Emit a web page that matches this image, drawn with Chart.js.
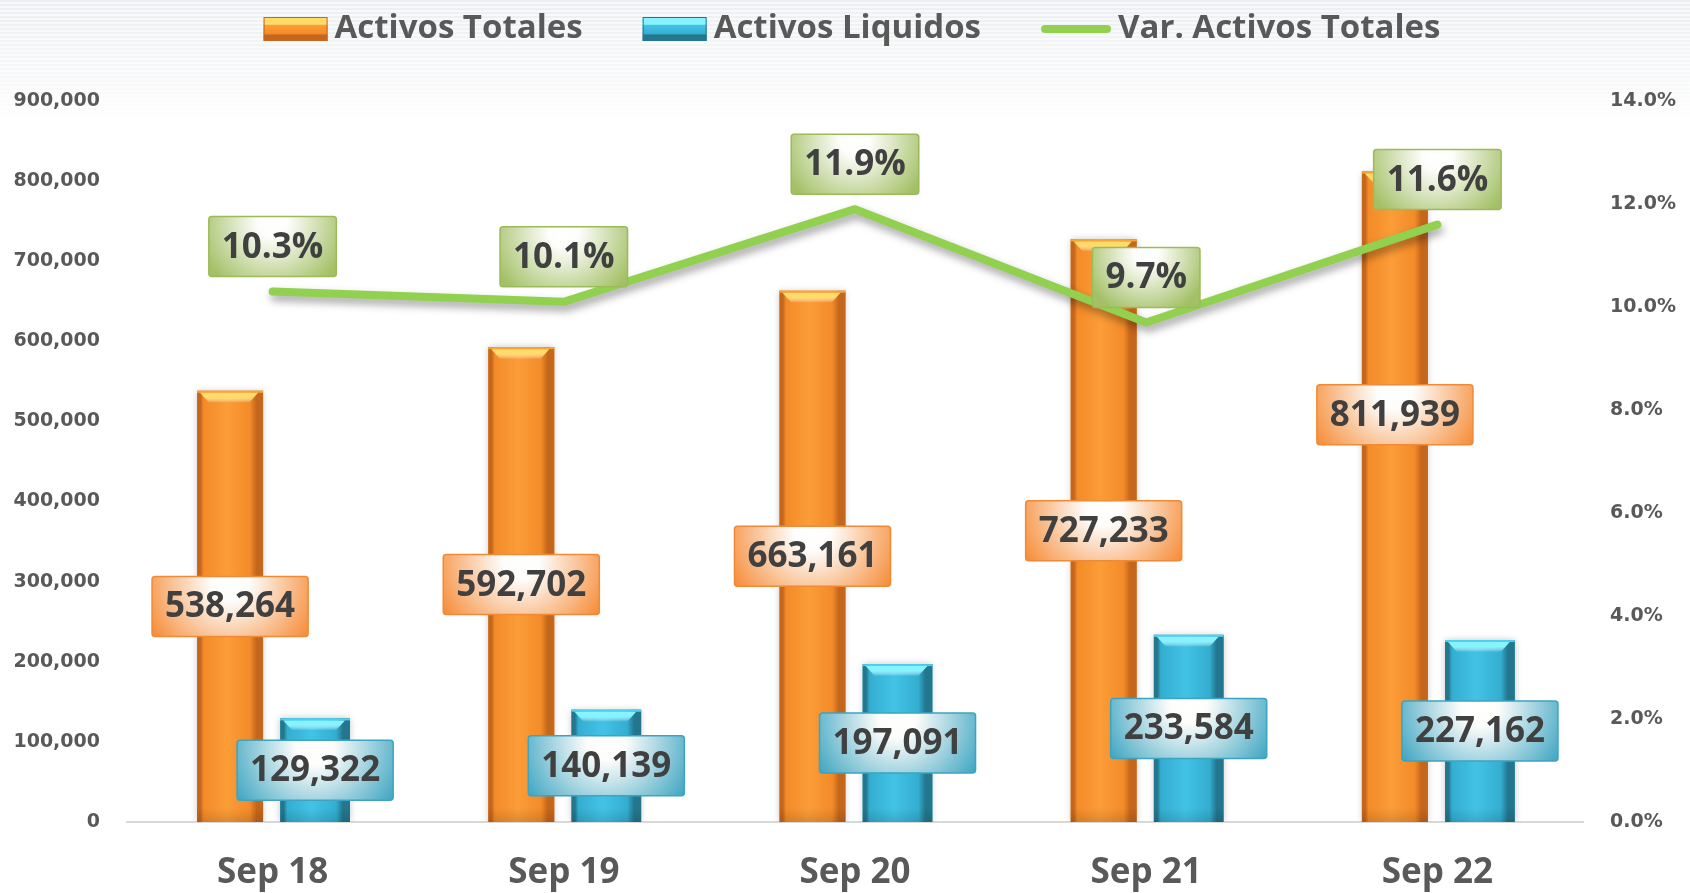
<!DOCTYPE html>
<html>
<head>
<meta charset="utf-8">
<script src="https://cdn.jsdelivr.net/npm/chart.js@4.4.1/dist/chart.umd.min.js"></script>
<style>
  html, body { margin: 0; padding: 0; }
  body {
    width: 1690px;
    height: 893px;
    overflow: hidden;
    background:
      linear-gradient(to bottom, rgba(255,255,255,0) 0px, rgba(255,255,255,0.55) 70px, #ffffff 125px),
      repeating-linear-gradient(to bottom, #eceef1 0px, #eceef1 2px, #f7f8f9 2px, #f7f8f9 4px);
  }
  #chart { display: block; }
</style>
</head>
<body>
<canvas id="chart" width="1690" height="893"></canvas>
<script>
const categories = ['Sep 18', 'Sep 19', 'Sep 20', 'Sep 21', 'Sep 22'];
const activosTotales = [538264, 592702, 663161, 727233, 811939];
const activosLiquidos = [129322, 140139, 197091, 233584, 227162];
const varActivosTotales = [10.3, 10.1, 11.9, 9.7, 11.6];
const seriesNames = ['Activos Totales', 'Activos Liquidos', 'Var. Activos Totales'];

// label nudges (px), the last orange label sits higher in the original
const totalLabelShift = [0, 0, 0, 0, -82];

const fmt = v => Math.round(v).toLocaleString('en-US');
const labelFont = 'bold 35px "Open Sans"';

// bar look: edge / body / highlight / cap colors
const barLook = {
  'Activos Totales': { dark: '#c4661c', mid: '#f38b28', light: '#fb9d38', cap: '#ffdc6a', capEdge: '#f7a535' },
  'Activos Liquidos': { dark: '#23768d', mid: '#33aed1', light: '#42c3e6', cap: '#86f3ff', capEdge: '#4fd0ee' }
};

function drawBox(ctx, text, cx, cy, edge, border) {
  ctx.font = labelFont;
  const w = ctx.measureText(text).width + 26;
  const h = 60;
  const l = cx - w / 2, t = cy - h / 2;
  const g = ctx.createRadialGradient(cx, t + 6, 0, cx, t + 6, w * 0.6);
  g.addColorStop(0, '#ffffff');
  g.addColorStop(0.2, '#fdfdfb');
  g.addColorStop(1, edge);
  ctx.save();
  ctx.fillStyle = g;
  ctx.beginPath();
  ctx.roundRect(l, t, w, h, 3);
  ctx.fill();
  ctx.lineWidth = 1.5;
  ctx.strokeStyle = border;
  ctx.stroke();
  ctx.fillStyle = '#404040';
  ctx.textAlign = 'center';
  ctx.textBaseline = 'middle';
  ctx.fillText(text, cx, cy + 1);
  ctx.restore();
}

const stylePlugin = {
  id: 'stylePlugin',
  beforeDatasetDraw(chart, args) {
    const ctx = chart.ctx;
    ctx.save();
    if (args.meta.type === 'line') {
      ctx.shadowColor = 'rgba(0,0,0,0.38)';
      ctx.shadowBlur = 8;
      ctx.shadowOffsetX = 2;
      ctx.shadowOffsetY = 5;
    } else {
      ctx.shadowColor = 'rgba(0,0,0,0.22)';
      ctx.shadowBlur = 7;
    }
  },
  afterDatasetDraw(chart, args) {
    const ctx = chart.ctx;
    ctx.restore();
    const meta = args.meta;
    if (meta.type !== 'bar') return;
    const look = barLook[chart.data.datasets[meta.index].label];
    meta.data.forEach(el => {
      const { x, y, base, width } = el.getProps(['x', 'y', 'base', 'width'], true);
      const l = x - width / 2;
      const g = ctx.createLinearGradient(l, 0, l + width, 0);
      g.addColorStop(0, look.dark);
      g.addColorStop(0.05, look.dark);
      g.addColorStop(0.1, look.mid);
      g.addColorStop(0.45, look.light);
      g.addColorStop(0.8, look.mid);
      g.addColorStop(0.9, look.dark);
      g.addColorStop(1, look.dark);
      ctx.save();
      ctx.fillStyle = g;
      ctx.fillRect(l, y, width, base - y);
      // darker foot
      const vg = ctx.createLinearGradient(0, base - 14, 0, base);
      vg.addColorStop(0, 'rgba(0,0,0,0)');
      vg.addColorStop(1, 'rgba(0,0,0,0.12)');
      ctx.fillStyle = vg;
      ctx.fillRect(l, base - 14, width, 14);
      // bevelled top cap
      ctx.fillStyle = look.capEdge;
      ctx.fillRect(l, y, width, 2);
      const cg = ctx.createLinearGradient(0, y + 2, 0, y + 12);
      cg.addColorStop(0, look.cap);
      cg.addColorStop(0.45, look.cap);
      cg.addColorStop(1, 'rgba(255,255,255,0)');
      ctx.fillStyle = cg;
      ctx.beginPath();
      ctx.moveTo(l + 3, y + 2);
      ctx.lineTo(l + width - 5, y + 2);
      ctx.lineTo(l + width - 14, y + 12);
      ctx.lineTo(l + 12, y + 12);
      ctx.closePath();
      ctx.fill();
      ctx.restore();
    });
  },
  afterDatasetsDraw(chart) {
    const ctx = chart.ctx;
    const metas = chart.getSortedVisibleDatasetMetas();
    metas.forEach(meta => {
      const ds = chart.data.datasets[meta.index];
      meta.data.forEach((el, i) => {
        const { x, y, base } = el.getProps(['x', 'y', 'base'], true);
        if (ds.label === 'Activos Totales') {
          drawBox(ctx, fmt(ds.data[i]), x, (y + base) / 2 + totalLabelShift[i], '#f68c38', '#f08a36');
        } else if (ds.label === 'Activos Liquidos') {
          drawBox(ctx, fmt(ds.data[i]), x, (y + base) / 2, '#40a6c2', '#3ea3c0');
        } else {
          drawBox(ctx, ds.data[i].toFixed(1) + '%', x, y - 45, '#a3c066', '#9bbb59');
        }
      });
    });
  },
  afterDraw(chart) {
    // legend
    const ctx = chart.ctx;
    ctx.save();
    ctx.font = 'bold 33px "Open Sans"';
    const sw = [64, 64, 70];
    const gapText = 7, gapItem = 60;
    const widths = seriesNames.map(n => ctx.measureText(n).width);
    let total = 0;
    widths.forEach((w, i) => { total += sw[i] + gapText + w; });
    total += gapItem * 2;
    let x = 852 - total / 2;
    const cy = 29;
    seriesNames.forEach((n, i) => {
      if (i < 2) {
        const look = barLook[n];
        const g = ctx.createLinearGradient(0, cy - 12, 0, cy + 12);
        g.addColorStop(0, look.cap);
        g.addColorStop(0.3, look.cap);
        g.addColorStop(0.35, look.light);
        g.addColorStop(0.7, look.mid);
        g.addColorStop(0.75, look.dark);
        g.addColorStop(1, look.dark);
        ctx.fillStyle = g;
        ctx.fillRect(x, cy - 12, sw[i], 24);
        ctx.strokeStyle = look.dark;
        ctx.lineWidth = 1;
        ctx.strokeRect(x + 0.5, cy - 11.5, sw[i] - 1, 23);
      } else {
        ctx.strokeStyle = '#92d050';
        ctx.lineWidth = 8;
        ctx.lineCap = 'round';
        ctx.beginPath();
        ctx.moveTo(x + 4, cy);
        ctx.lineTo(x + sw[i] - 4, cy);
        ctx.stroke();
      }
      x += sw[i] + gapText;
      ctx.fillStyle = '#595959';
      ctx.textAlign = 'left';
      ctx.textBaseline = 'middle';
      ctx.fillText(n, x, cy);
      x += widths[i] + gapItem;
    });
    ctx.restore();
  }
};

function makeChart() {
  new Chart(document.getElementById('chart'), {
    data: {
      labels: categories,
      datasets: [
        {
          type: 'line',
          label: seriesNames[2],
          data: varActivosTotales,
          yAxisID: 'y1',
          borderColor: '#92d050',
          backgroundColor: '#92d050',
          borderWidth: 8,
          pointRadius: 0,
          tension: 0,
          borderCapStyle: 'round',
          borderJoinStyle: 'round',
          order: 0
        },
        {
          type: 'bar',
          label: seriesNames[0],
          data: activosTotales,
          yAxisID: 'y',
          backgroundColor: '#f38b28',
          barPercentage: 0.776,
          categoryPercentage: 0.584,
          order: 1
        },
        {
          type: 'bar',
          label: seriesNames[1],
          data: activosLiquidos,
          yAxisID: 'y',
          backgroundColor: '#33aed1',
          barPercentage: 0.82,
          categoryPercentage: 0.584,
          order: 2
        }
      ]
    },
    options: {
      responsive: false,
      animation: false,
      devicePixelRatio: 1,
      layout: { padding: { top: 101, left: 0, right: 0, bottom: 0 } },
      plugins: {
        legend: { display: false },
        tooltip: { enabled: false }
      },
      scales: {
        x: {
          offset: true,
          grid: { display: false, drawTicks: false },
          border: { display: true, color: '#d9d9d9', width: 2 },
          ticks: {
            color: '#595959',
            font: { family: '"Open Sans"', size: 35, weight: 'bold' },
            padding: 30
          },
          afterFit: s => { s.height = 71; }
        },
        y: {
          position: 'left',
          min: 0,
          max: 900000,
          grid: { display: false, drawTicks: false },
          border: { display: false },
          ticks: {
            stepSize: 100000,
            color: '#595959',
            font: { family: '"DejaVu Sans"', size: 19, weight: 'bold' },
            padding: 27,
            callback: v => fmt(v)
          },
          afterFit: s => { s.width = 127; }
        },
        y1: {
          position: 'right',
          min: 0,
          max: 14,
          grid: { display: false, drawTicks: false },
          border: { display: false },
          ticks: {
            stepSize: 2,
            color: '#595959',
            font: { family: '"DejaVu Sans"', size: 19, weight: 'bold' },
            padding: 27,
            callback: v => v.toFixed(1) + '%'
          },
          afterFit: s => { s.width = 107; }
        }
      }
    },
    plugins: [stylePlugin]
  });
}

Promise.all([
  document.fonts.load('bold 35px "Open Sans"'),
  document.fonts.load('bold 19px "DejaVu Sans"')
]).then(makeChart, makeChart);
</script>
</body>
</html>
